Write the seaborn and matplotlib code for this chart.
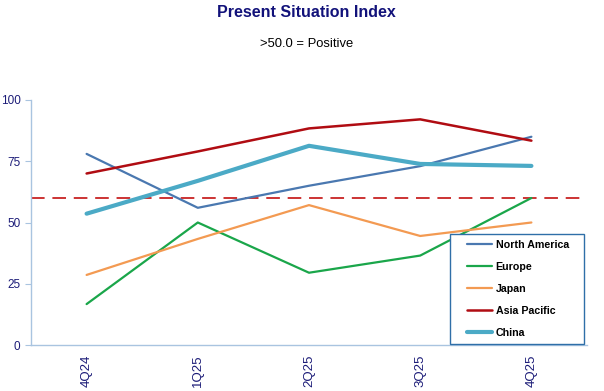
import pandas as pd
import matplotlib
matplotlib.use('Agg')
import matplotlib.pyplot as plt
from matplotlib.lines import Line2D
from matplotlib.legend_handler import HandlerLine2D
import seaborn as sns

quarters = ['4Q24', '1Q25', '2Q25', '3Q25', '4Q25']
north_america = [78, 56, 65, 73, 85]
europe = [16.7, 50, 29.5, 36.5, 60]
japan = [28.6, 43.3, 57.1, 44.5, 50]
asia_pacific = [70, 79, 88.4, 92.1, 83.4]
china = [53.6, 67, 81.3, 73.9, 73.1]
threshold = 60

series = ['North America', 'Europe', 'Japan', 'Asia Pacific', 'China']
values = [north_america, europe, japan, asia_pacific, china]
colors = ['#4a78b0', '#1aa64a', '#f39a52', '#b00c12', '#4baac6']
widths = [1.6, 1.6, 1.6, 1.8, 3.0]

rows = []
for name, vals in zip(series, values):
    for i, v in enumerate(vals):
        rows.append({'quarter': i, 'label': quarters[i], 'region': name, 'value': v})
df = pd.DataFrame(rows)

sns.set_style('white')
plt.rcParams['font.family'] = ['Liberation Sans', 'DejaVu Sans']

navy = '#1c1c78'
spine = '#a9c4e0'

fig = plt.figure(figsize=(6.04, 3.91), dpi=100)
ax = fig.add_axes([31 / 604, 46 / 391, 556 / 604, 245 / 391])

for name, c, w in zip(series, colors, widths):
    sns.lineplot(data=df[df['region'] == name], x='quarter', y='value',
                 color=c, linewidth=w, label=name, ax=ax)

ax.axhline(threshold, color='#cc3333', linewidth=1.4, dashes=(7, 4), zorder=1)

ax.set_xlim(-0.5, 4.5)
ax.set_ylim(0, 100)
ax.set_yticks([0, 25, 50, 75, 100])
ax.set_xticks(range(len(quarters)))
ax.set_xticklabels(quarters, rotation=90)
ax.set_xticks([i - 0.5 for i in range(len(quarters) + 1)], minor=True)
ax.tick_params(axis='x', which='major', length=0, labelsize=9.5, labelcolor=navy, pad=7)
ax.tick_params(axis='x', which='minor', length=4, color=spine, direction='out')
ax.tick_params(axis='y', length=4, color=spine, direction='out', labelsize=8.5,
               labelcolor=navy, left=True)
ax.set_xlabel('')
ax.set_ylabel('')

for s in ['top', 'right']:
    ax.spines[s].set_visible(False)
for s in ['left', 'bottom']:
    ax.spines[s].set_color(spine)
    ax.spines[s].set_linewidth(1)

# xpad pushes the short line samples away from the frame's left edge
leg = ax.legend(loc='lower left', bbox_to_anchor=(0.754, 0.004, 0.241, 0.445),
                mode='expand', frameon=True, fancybox=False, framealpha=1,
                edgecolor='#2f6fa8', prop={'weight': 'bold', 'size': 7.7},
                handlelength=3.4, handletextpad=0.3, labelspacing=1.12,
                borderpad=0.55, borderaxespad=0,
                handler_map={Line2D: HandlerLine2D(xpad=1.05)})
leg.get_frame().set_linewidth(1.0)
leg.set_zorder(5)
for t in leg.get_texts():
    t.set_color('black')

fig.text(0.507, 0.969, 'Present Situation Index', ha='center', va='center',
         fontsize=11.5, fontweight='bold', color='#12127a')
fig.text(0.508, 0.887, '>50.0 = Positive', ha='center', va='center',
         fontsize=9.4, color='black')

fig.savefig('out.png', dpi=100)
